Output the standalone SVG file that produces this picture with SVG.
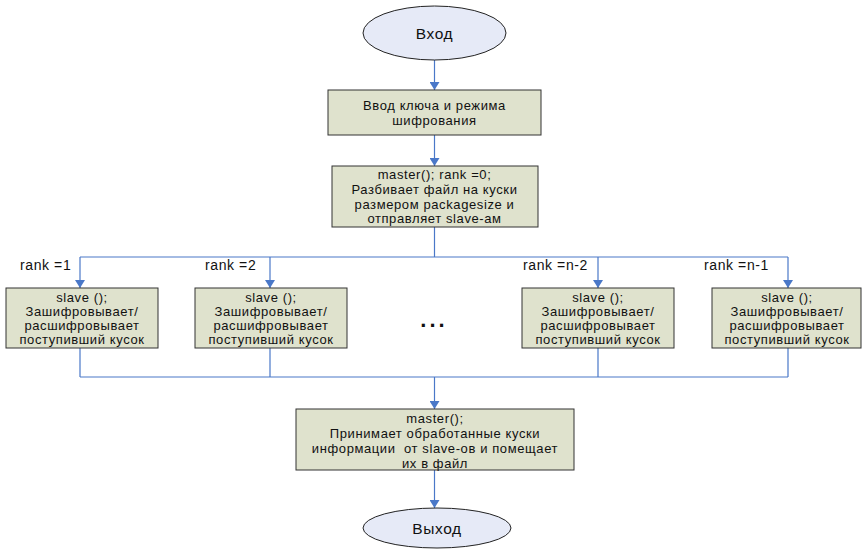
<svg xmlns="http://www.w3.org/2000/svg" width="862" height="550" viewBox="0 0 862 550">
<style>
.box{fill:#dfe2cd;stroke:#333;stroke-width:1}
.ell{fill:#e6eaf7;stroke:#222;stroke-width:1}
.t{font-family:"Liberation Sans",Arial,sans-serif;font-size:13px;letter-spacing:0.6px;fill:#111;text-anchor:middle}
.big{font-size:15.5px;letter-spacing:0.6px}
.lbl{font-family:"Liberation Sans",Arial,sans-serif;font-size:14px;letter-spacing:0.6px;fill:#111}
.c{fill:none;stroke:#4a78c8;stroke-width:1.2}
</style>
<defs>
<marker id="ah" markerWidth="8" markerHeight="10" refX="8" refY="5" orient="auto" markerUnits="userSpaceOnUse">
<path d="M0,0 L8,5 L0,10 Z" fill="#4a78c8"/>
</marker>
</defs>
<rect width="862" height="550" fill="#fff"/>
<g id="connectors">
<path class="c" d="M434.5,60 V90" marker-end="url(#ah)"/>
<path class="c" d="M434.5,135 V166" marker-end="url(#ah)"/>
<path class="c" d="M434.5,227 V257 M80,257 H788"/>
<path class="c" d="M80,257 V288" marker-end="url(#ah)"/>
<path class="c" d="M270,257 V288" marker-end="url(#ah)"/>
<path class="c" d="M598,257 V288" marker-end="url(#ah)"/>
<path class="c" d="M788,257 V288" marker-end="url(#ah)"/>
<path class="c" d="M80,348 V377 M270,348 V377 M598,348 V377 M788,348 V377 M80,377 H788"/>
<path class="c" d="M434.5,377 V409" marker-end="url(#ah)"/>
<path class="c" d="M434.5,470 V508" marker-end="url(#ah)"/>
</g>
<g id="start">
<ellipse class="ell" cx="434.5" cy="33" rx="71.5" ry="27"/>
<text class="t big" x="434.5" y="38.5">Вход</text>
</g>
<g id="input">
<rect class="box" x="328" y="90" width="213" height="45"/>
<text class="t" x="434.5" y="109.5">Ввод ключа и режима</text>
<text class="t" x="434.5" y="124.5">шифрования</text>
</g>
<g id="master1">
<rect class="box" x="332" y="166" width="206" height="61"/>
<text class="t" x="434.5" y="178.5">master(); rank =0;</text>
<text class="t" x="434.5" y="194">Разбивает файл на куски</text>
<text class="t" x="434.5" y="209">размером packagesize и</text>
<text class="t" x="434.5" y="223">отправляет slave-ам</text>
</g>
<g id="labels">
<text class="lbl" x="20" y="270">rank =1</text>
<text class="lbl" x="205" y="270">rank =2</text>
<text class="lbl" x="523" y="270">rank =n-2</text>
<text class="lbl" x="704" y="270">rank =n-1</text>
</g>
<g id="slave1">
<rect class="box" x="6" y="288" width="152" height="60"/>
<text class="t" x="82" y="301.5">slave ();</text>
<text class="t" x="82" y="315.5">Зашифровывает/</text>
<text class="t" x="82" y="329.5">расшифровывает</text>
<text class="t" x="82" y="343.5">поступивший кусок</text>
</g>
<g id="slave2">
<rect class="box" x="195" y="288" width="152" height="60"/>
<text class="t" x="271" y="301.5">slave ();</text>
<text class="t" x="271" y="315.5">Зашифровывает/</text>
<text class="t" x="271" y="329.5">расшифровывает</text>
<text class="t" x="271" y="343.5">поступивший кусок</text>
</g>
<g id="dots">
<text class="lbl" x="434" y="327" style="font-size:22px;font-weight:bold;letter-spacing:3px;text-anchor:middle">...</text>
</g>
<g id="slave3">
<rect class="box" x="522" y="288" width="152" height="60"/>
<text class="t" x="598" y="301.5">slave ();</text>
<text class="t" x="598" y="315.5">Зашифровывает/</text>
<text class="t" x="598" y="329.5">расшифровывает</text>
<text class="t" x="598" y="343.5">поступивший кусок</text>
</g>
<g id="slave4">
<rect class="box" x="712" y="288" width="149" height="60"/>
<text class="t" x="787" y="301.5">slave ();</text>
<text class="t" x="787" y="315.5">Зашифровывает/</text>
<text class="t" x="787" y="329.5">расшифровывает</text>
<text class="t" x="787" y="343.5">поступивший кусок</text>
</g>
<g id="master2">
<rect class="box" x="296" y="409" width="278" height="61"/>
<text class="t" x="435" y="422.5">master();</text>
<text class="t" x="435" y="437.5">Принимает обработанные куски</text>
<text class="t" x="435" y="452.5" xml:space="preserve">информации  от slave-ов и помещает</text>
<text class="t" x="435" y="467.5">их в файл</text>
</g>
<g id="end">
<ellipse class="ell" cx="437" cy="528" rx="74" ry="20"/>
<text class="t big" x="437" y="533.5">Выход</text>
</g>
</svg>
